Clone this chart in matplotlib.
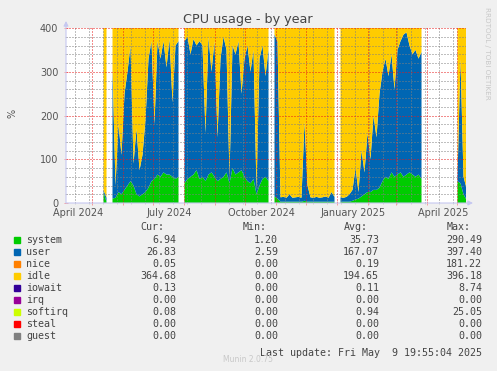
import numpy as np
import pandas as pd
import matplotlib
matplotlib.use("Agg")
import matplotlib.pyplot as plt
import matplotlib.dates as mdates
from matplotlib.patches import Rectangle

nan = np.nan

# one sample every 3 days, starting 2024-04-05 (values in %, 4 cpus)
start = "2024-04-05"
system = [nan] * 12 + [25, 3, nan,
    10, 12, 25, 20, 30, 40, 50, 40, 20, 15, 20, 25, 35, 50, 55, 65, 60, 70, 65, 65, 60, 55, 60, nan,
    45, 55, 60, 65, 75, 55, 60, 50, 65, 70, 60, 50, 55, 60, 70, 45, 80, 65, 70, 75, 60, 50, 45, 55,
    20, 40, 55, 60, 50, nan,
    15, 10, 3, 3, 3, 3, 3, 3, 3, 3, 5, 3, 3, 3, 3, 3, 3, 3, 3, 3, 3, nan,
    3, 3, 3, 3, 5, 8, 10, 15, 20, 25, 25, 30, 30, 35, 50, 60, 55, 70, 60, 65, 70, 60, 65, 70, 65,
    60, 65, 55] + [nan] * 11 + [50, 45, 20, 7]
user = [nan] * 12 + [5, 9, nan,
    300, 28, 155, 90, 220, 260, 310, 50, 150, 60, 90, 165, 295, 320, 125, 305, 270, 300, 245, 310,
    170, 305, 310, nan,
    325, 325, 280, 310, 285, 315, 300, 110, 315, 230, 310, 100, 275, 320, 280, 15, 280, 275, 300,
    175, 270, 310, 255, 295, 10, 290, 305, 230, 300, nan,
    370, 360, 10, 11, 9, 17, 9, 10, 11, 9, 180, 37, 10, 9, 11, 9, 10, 12, 9, 22, 11, nan,
    10, 9, 11, 17, 25, 72, 15, 105, 50, 135, 75, 170, 120, 215, 250, 270, 235, 270, 200, 285, 300,
    325, 325, 290, 275, 290, 265, 290] + [nan] * 11 + [10, 285, 40, 27]
idle = [nan] * 12 + [370, 388, nan,
    90, 360, 220, 290, 150, 100, 40, 310, 230, 325, 290, 210, 70, 30, 220, 30, 70, 30, 90, 25,
    170, 40, 30, nan,
    30, 20, 60, 25, 40, 30, 40, 240, 20, 100, 30, 250, 70, 20, 50, 340, 40, 60, 30, 150, 70, 40,
    100, 50, 370, 70, 40, 110, 50, nan,
    15, 30, 387, 386, 388, 380, 388, 387, 386, 388, 215, 360, 387, 388, 386, 388, 387, 385, 388,
    375, 386, nan,
    387, 388, 386, 380, 370, 320, 375, 280, 330, 240, 300, 200, 250, 150, 100, 70, 110, 60, 140,
    50, 30, 15, 10, 40, 60, 50, 70, 55] + [nan] * 11 + [340, 70, 340, 365]

names = ["system", "user", "nice", "idle", "iowait", "irq", "softirq", "steal", "guest"]
colors = ["#00CC00", "#0066B3", "#FF8000", "#FFCC00", "#330099",
          "#990099", "#CCFF00", "#FF0000", "#808080"]
cur = ["6.94", "26.83", "0.05", "364.68", "0.13", "0.00", "0.08", "0.00", "0.00"]
vmin = ["1.20", "2.59", "0.00", "0.00", "0.00", "0.00", "0.00", "0.00", "0.00"]
avg = ["35.73", "167.07", "0.19", "194.65", "0.11", "0.00", "0.94", "0.00", "0.00"]
vmax = ["290.49", "397.40", "181.22", "396.18", "8.74", "0.00", "25.05", "0.00", "0.00"]
quarter_labels = ["April 2024", "July 2024", "October 2024", "January 2025", "April 2025"]
quarter_dates = ["2024-04-17", "2024-07-17", "2024-10-17", "2025-01-17", "2025-04-17"]

dates = pd.date_range(start, periods=len(system), freq="3D") + pd.Timedelta(hours=36)
x = mdates.date2num(dates)
system = np.array(system, float)
user = np.array(user, float)
idle = np.array(idle, float)

W, H = 497, 371
fig = plt.figure(figsize=(W / 100, H / 100), dpi=100, facecolor="#f0f0f0")
ax = fig.add_axes([66 / W, 1 - 203 / H, 400 / W, 175 / H])
ax.set_facecolor("white")

bottom = np.zeros(len(x))
for vals, col in [(system, colors[0]), (user, colors[1]), (idle, colors[3])]:
    top = bottom + vals
    ax.fill_between(x, bottom, top, color=col, linewidth=0, zorder=1)
    bottom = top

ax.set_xlim(pd.Timestamp("2024-04-05"), pd.Timestamp("2025-05-10"))
ax.set_ylim(0, 400)

# grid (drawn over the data, as rrdtool does)
ax.set_yticks(range(0, 401, 100))
ax.set_yticks(range(0, 401, 20), minor=True)
months = pd.date_range("2024-05-01", "2025-05-01", freq="MS")
ax.set_xticks(mdates.date2num(months))
ax.set_xticks(mdates.date2num(pd.date_range("2024-04-14", "2025-05-09", freq="14D")), minor=True)
ax.set_xticklabels([])
ax.grid(which="minor", color=(0.5, 0.5, 0.5, 0.17), linestyle=(0, (1, 2)), linewidth=0.72, zorder=3)
ax.grid(which="major", color=(0.9, 0.1, 0.1, 0.16), linestyle=(0, (1, 2)), linewidth=0.72, zorder=3)
ax.set_axisbelow(False)
ax.tick_params(which="both", direction="inout", length=3, width=0.7, colors=(1, 0, 0, 0.35),
               labelcolor="#555555", labelsize=7, pad=4)
ax.tick_params(which="minor", colors=(0.5, 0.5, 0.5, 0.3), length=2)
for s in ax.spines.values():
    s.set_visible(False)

axis_col = "#c6c8f0"
ax.annotate("", xy=(1 + 7 / 400, 0), xytext=(0, 0), xycoords="axes fraction",
            arrowprops=dict(arrowstyle="-|>", color=axis_col, lw=0.8, mutation_scale=7,
                            shrinkA=0, shrinkB=0), annotation_clip=False)
ax.annotate("", xy=(0, 1 + 7 / 175), xytext=(0, 0), xycoords="axes fraction",
            arrowprops=dict(arrowstyle="-|>", color=axis_col, lw=0.8, mutation_scale=7,
                            shrinkA=0, shrinkB=0), annotation_clip=False)

for lab, d in zip(quarter_labels, quarter_dates):
    ax.text(mdates.date2num(pd.Timestamp(d)), -9.5 / 175, lab, transform=ax.get_xaxis_transform(),
            ha="center", va="center", fontsize=7, color="#555555")

fig.text(248 / W, 1 - 19 / H, "CPU usage - by year", ha="center", va="center",
         fontsize=9.2, color="#444444")
fig.text(12 / W, 1 - 113 / H, "%", rotation=90, ha="center", va="center",
         fontsize=7, color="#555555")
fig.text(487 / W, 1 - 53 / H, "RRDTOOL / TOBI OETIKER", rotation=270, ha="center", va="center",
         fontsize=5.2, color="#c8c8c8")

mono = dict(family="DejaVu Sans Mono", fontsize=7.2, color="#444444", va="center")
for head, hx in [("Cur:", 140), ("Min:", 243), ("Avg:", 344), ("Max:", 447)]:
    fig.text(hx / W, 1 - 227 / H, head, ha="left", **mono)
for k, name in enumerate(names):
    y = 240 + 12 * k
    fig.patches.append(Rectangle((14 / W, 1 - (y + 3) / H), 6 / W, 6 / H, color=colors[k],
                                 transform=fig.transFigure, figure=fig))
    fig.text(26 / W, 1 - y / H, name, ha="left", **mono)
    for col, cx in [(cur, 176), (vmin, 278), (avg, 379), (vmax, 482)]:
        fig.text(cx / W, 1 - y / H, col[k], ha="right", **mono)
fig.text(482 / W, 1 - 353 / H, "Last update: Fri May  9 19:55:04 2025", ha="right", **mono)
fig.text(248 / W, 1 - 360 / H, "Munin 2.0.75", ha="center", va="center",
         fontsize=5.5, color="#c8c8c8")

fig.savefig("out.png", dpi=100, facecolor=fig.get_facecolor())
